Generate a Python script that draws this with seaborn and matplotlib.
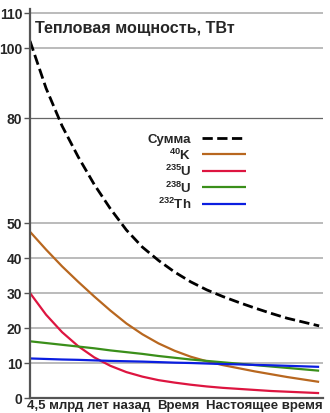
import matplotlib
matplotlib.use("Agg")
import matplotlib.pyplot as plt
import matplotlib.transforms as mtransforms
import seaborn as sns
import pandas as pd

# ---- data ----
time_gyr = [0, 0.25, 0.5, 0.75, 1.0, 1.25, 1.5, 1.75, 2.0, 2.25, 2.5, 2.75,
            3.0, 3.25, 3.5, 3.75, 4.0, 4.25, 4.5]
total = [102.0, 88.5, 77.7, 68.9, 61.0, 54.1, 48.0, 43.1, 39.3, 36.0, 33.2, 30.9,
         29.0, 27.3, 25.7, 24.2, 22.8, 21.7, 20.6]
k40 = [47.5, 42.4, 37.6, 33.2, 29.0, 25.0, 21.3, 18.2, 15.6, 13.5, 11.8, 10.5,
       9.4, 8.5, 7.6, 6.8, 6.0, 5.3, 4.6]
u235 = [30.0, 23.8, 18.8, 14.8, 11.6, 9.2, 7.4, 6.1, 5.1, 4.4, 3.8, 3.3,
        2.9, 2.6, 2.3, 2.0, 1.8, 1.6, 1.4]
u238 = [16.2, 15.7, 15.2, 14.7, 14.2, 13.6, 13.1, 12.6, 12.0, 11.5, 11.0, 10.6,
        10.2, 9.8, 9.4, 9.0, 8.6, 8.2, 7.8]
th232 = [11.3, 11.15, 11.0, 10.9, 10.75, 10.6, 10.5, 10.4, 10.25, 10.1, 10.0, 9.85,
         9.7, 9.6, 9.45, 9.35, 9.2, 9.05, 8.9]

series_labels = ["Сумма", r"$^{40}$K", r"$^{235}$U", r"$^{238}$U", r"$^{232}$Th"]
series_values = [total, k40, u235, u238, th232]
y_ticks = [0, 10, 20, 30, 40, 50, 80, 100, 110]
x_tick_labels = ["4,5 млрд лет назад", "Время", "Настоящее время"]
title_text = "Тепловая мощность, ТВт"

colors = ["black", "#b8671f", "#dd1540", "#3a8f1a", "#0b1ee0"]
styles = ["--", "-", "-", "-", "-"]

sns.set_style("white")
plt.rcParams["font.family"] = ["Liberation Sans", "DejaVu Sans"]
plt.rcParams["font.weight"] = "bold"
plt.rcParams["mathtext.fontset"] = "custom"
plt.rcParams["mathtext.rm"] = "Liberation Sans:bold"
plt.rcParams["mathtext.it"] = "Liberation Sans:bold"
plt.rcParams["mathtext.bf"] = "Liberation Sans:bold"
plt.rcParams["mathtext.default"] = "bf"
plt.rcParams["lines.solid_capstyle"] = "butt"

fig = plt.figure(figsize=(3.3, 4.14), dpi=100)
ax = fig.add_axes([30 / 330, 15 / 414, 293 / 330, 389 / 414])

frames = []
for lab, vals in zip(series_labels, series_values):
    frames.append(pd.DataFrame({"t": time_gyr, "v": vals, "s": lab}))
df = pd.concat(frames, ignore_index=True)

for lab, col, ls in zip(series_labels, colors, styles):
    sub = df[df["s"] == lab]
    lw = 2.0 if ls == "--" else 1.6
    line_kw = dict(dashes=(3, 2)) if ls == "--" else {}
    sns.lineplot(data=sub, x="t", y="v", ax=ax, color=col, linewidth=lw,
                 label=lab, linestyle=ls, **line_kw)

ax.set_xlim(0, 4.547)
ax.set_ylim(0, 111.14)
ax.set_xlabel("")
ax.set_ylabel("")

ax.set_yticks(y_ticks)
ax.set_yticklabels([str(v) for v in y_ticks], fontsize=10, fontweight="bold")
ax.tick_params(axis="y", left=True, length=4, width=1, color="#555555", pad=1.5)
ax.yaxis.grid(True, color="#bbbbbb", linewidth=1.4)
for tv, gl in zip(y_ticks, ax.get_ygridlines()):
    if tv == 80:
        gl.set_color("#666666")
        gl.set_linewidth(0.9)
ax.set_axisbelow(True)

ax.set_xticks([0, 2.31, 4.56])
ax.set_xticklabels(x_tick_labels, fontsize=9.5, fontweight="bold")
xt = ax.get_xticklabels()
xt[0].set_horizontalalignment("left")
xt[2].set_horizontalalignment("right")
ax.tick_params(axis="x", length=0, pad=1)
offset = mtransforms.ScaledTranslation(-3 / 100, 0, fig.dpi_scale_trans)
xt[0].set_transform(xt[0].get_transform() + offset)

for side in ["top", "right"]:
    ax.spines[side].set_visible(False)
for side in ["left", "bottom"]:
    ax.spines[side].set_color("#555555")
    ax.spines[side].set_linewidth(1.6)

ax.text(5 / 293, 1 - 18.5 / 389, title_text, transform=ax.transAxes,
        fontsize=11.6, fontweight="bold", ha="left", va="center")

leg = ax.legend(loc="upper left", bbox_to_anchor=(118 / 293, 1 - 124 / 389),
                frameon=False, markerfirst=False, fontsize=9.5,
                handlelength=3.3, handletextpad=0.8, labelspacing=0.1,
                borderaxespad=0, borderpad=0)
for t in leg.get_texts():
    t.set_fontweight("bold")

fig.savefig("out.png", dpi=100)
